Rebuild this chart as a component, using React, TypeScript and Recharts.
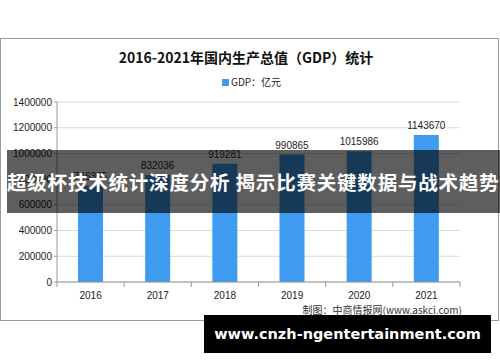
import React from "react";
import {
  BarChart,
  Bar,
  XAxis,
  YAxis,
  CartesianGrid,
  LabelList,
} from "recharts";

const years = ["2016", "2017", "2018", "2019", "2020", "2021"];
const gdp = [746395, 832036, 919281, 990865, 1015986, 1143670];
const yTicks = [0, 200000, 400000, 600000, 800000, 1000000, 1200000, 1400000];

const data = years.map((year, i) => ({ year, gdp: gdp[i] }));

const FONT = "'Liberation Sans', Arial, sans-serif";
const CJK = "'Noto Sans CJK SC', sans-serif";
const HALF_BAND = 403 / 6 / 2;

// excel style: tick marks sit between categories
const YearTick = (props: any) => {
  const { x, y, payload, index } = props;
  return (
    <g>
      <line x1={x - HALF_BAND} y1={y - 8} x2={x - HALF_BAND} y2={y - 3} stroke="#999" />
      {index === years.length - 1 && (
        <line x1={x + HALF_BAND} y1={y - 8} x2={x + HALF_BAND} y2={y - 3} stroke="#999" />
      )}
      <text x={x} y={y + 9} textAnchor="middle" fontSize={10} fill="#222" fontFamily={FONT}>
        {payload.value}
      </text>
    </g>
  );
};

export default function App() {
  return (
    <div style={{ position: "relative", width: 500, height: 362, background: "#fff", overflow: "hidden" }}>
      <style>{"body{margin:0}"}</style>

      {/* chart frame */}
      <div
        style={{
          position: "absolute",
          left: 0,
          top: 38,
          width: 497,
          height: 281,
          border: "1px solid #9a9a9a",
        }}
      />

      <div
        style={{
          position: "absolute",
          top: 46,
          left: 0,
          width: 492,
          textAlign: "center",
          fontFamily: CJK,
          fontSize: 14,
          fontWeight: 600,
          color: "#111",
          lineHeight: "22px",
        }}
      >
        2016-2021年国内生产总值（GDP）统计
      </div>

      <div
        style={{
          position: "absolute",
          top: 75,
          left: 222,
          display: "flex",
          alignItems: "center",
          fontFamily: CJK,
          fontSize: 10,
          color: "#222",
          lineHeight: "14px",
        }}
      >
        <span style={{ width: 7, height: 7, background: "#3e9bef", marginRight: 2 }} />
        GDP：亿元
      </div>

      <div style={{ position: "absolute", left: 0, top: 0 }}>
        <BarChart
          width={500}
          height={362}
          data={data}
          margin={{ top: 102, right: 40, bottom: 50, left: 0 }}
          barSize={25}
        >
          <CartesianGrid vertical={false} stroke="#d9d9d9" />
          <XAxis
            dataKey="year"
            height={30}
            axisLine={{ stroke: "#999" }}
            tickLine={false}
            tick={<YearTick />}
          />
          <YAxis
            width={57}
            domain={[0, 1400000]}
            ticks={yTicks}
            interval={0}
            axisLine={{ stroke: "#999" }}
            tickLine={{ stroke: "#999" }}
            tickSize={3}
            tick={{ fontSize: 10, fill: "#222", fontFamily: FONT }}
          />
          <Bar dataKey="gdp" name="GDP：亿元" fill="#3e9bef" isAnimationActive={false}>
            <LabelList
              dataKey="gdp"
              position="top"
              offset={6}
              style={{ fontSize: 10, fill: "#222", fontFamily: FONT }}
            />
          </Bar>
        </BarChart>
      </div>

      <div
        style={{
          position: "absolute",
          top: 303,
          right: 38,
          fontFamily: CJK,
          fontSize: 10,
          color: "#333",
          lineHeight: "14px",
        }}
      >
        制图：中商情报网(www.askci.com)
      </div>

      {/* overlay banner */}
      <div
        style={{
          position: "absolute",
          left: 7,
          top: 150,
          width: 493,
          height: 63,
          background: "rgba(0,0,0,0.63)",
          color: "#fff",
          fontFamily: CJK,
          fontWeight: 700,
          fontSize: 19.5,
          letterSpacing: 0.8,
          lineHeight: "63px",
          whiteSpace: "nowrap",
          textAlign: "left",
        }}
      >
        超级杯技术统计深度分析 揭示比赛关键数据与战术趋势
      </div>

      <div
        style={{
          position: "absolute",
          left: 204,
          top: 315,
          width: 287,
          height: 38,
          background: "#000",
          color: "#fff",
          fontFamily: "'DejaVu Sans', sans-serif",
          fontWeight: 700,
          fontSize: 14.5,
          lineHeight: "38px",
          textAlign: "center",
          whiteSpace: "nowrap",
        }}
      >
        www.cnzh-ngentertainment.com
      </div>
    </div>
  );
}
